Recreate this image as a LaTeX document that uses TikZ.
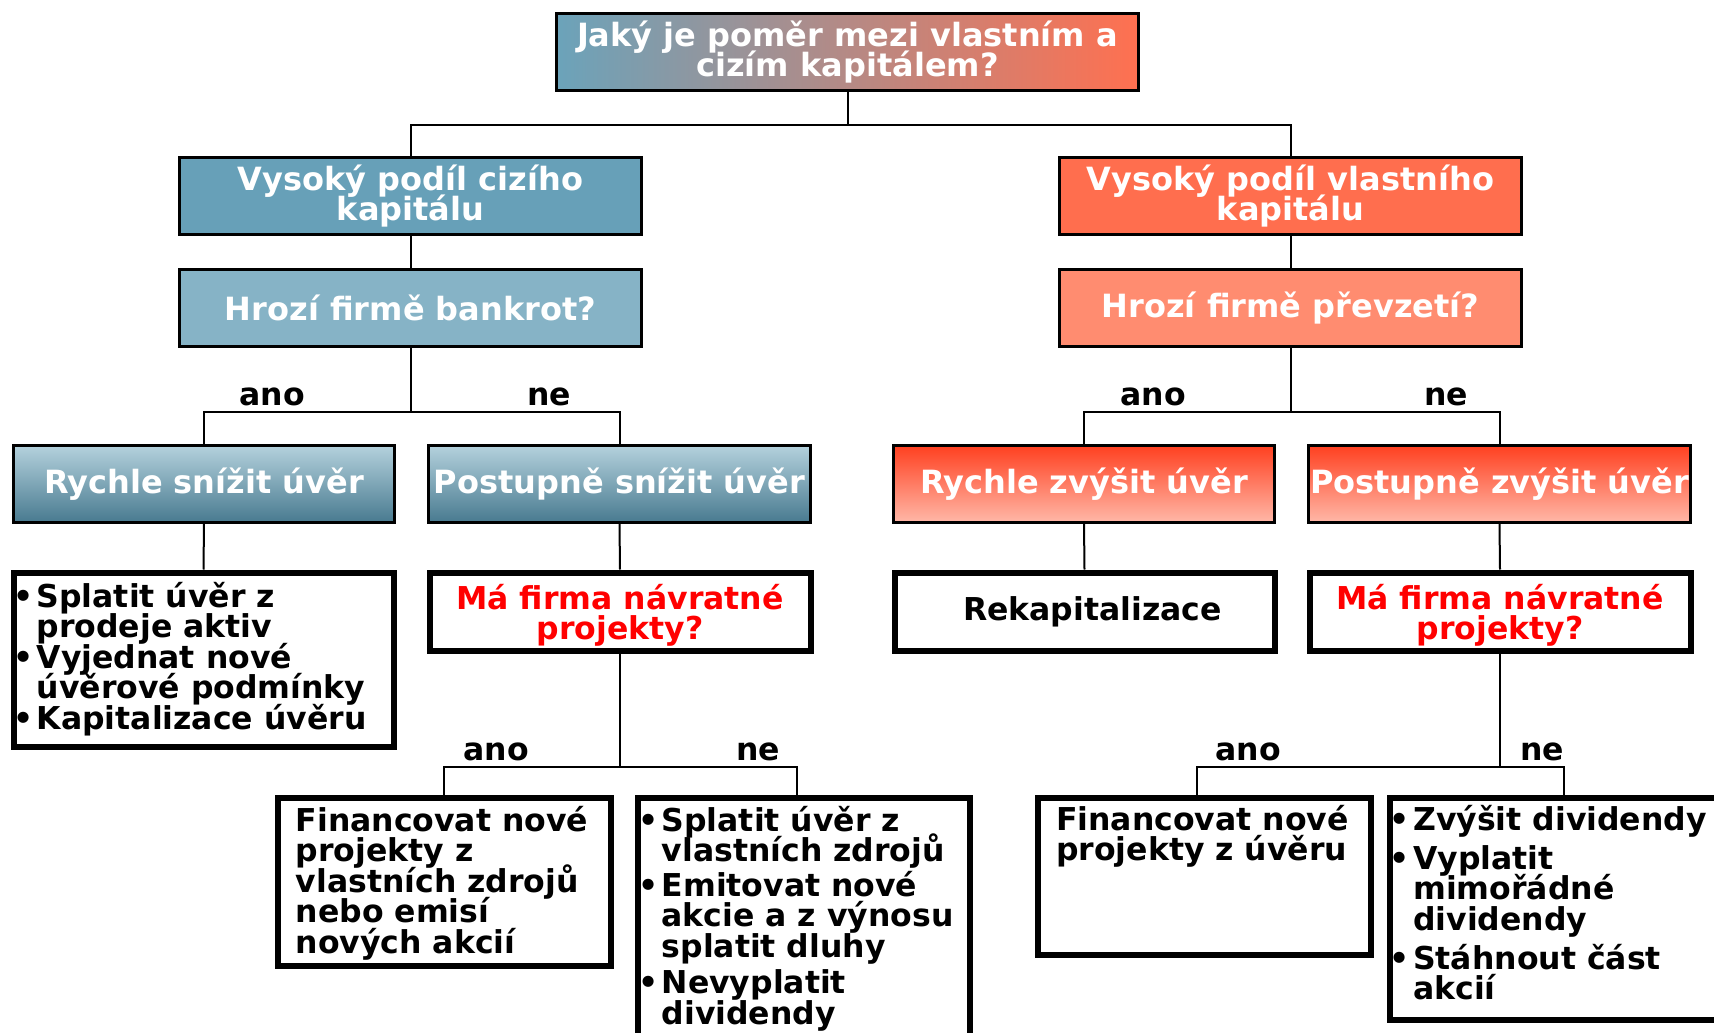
\documentclass[tikz,border=0pt]{standalone}
\usepackage{fontspec}
\setmainfont{DejaVu Sans}
\usetikzlibrary{calc}

\definecolor{hdblue}{HTML}{6BA3BA}
\definecolor{hdorange}{HTML}{FF7050}
\definecolor{debtA}{HTML}{67A0B8}
\definecolor{debtB}{HTML}{86B3C6}
\definecolor{debtTop}{HTML}{B4D1DC}
\definecolor{debtBot}{HTML}{487A90}
\definecolor{eqA}{HTML}{FF6E4E}
\definecolor{eqB}{HTML}{FF8C70}
\definecolor{eqTop}{HTML}{FF4020}
\definecolor{eqBot}{HTML}{FFB8A8}
\definecolor{askred}{HTML}{FF0000}

% list helpers: bullet column, hanging indent, first-line strut
\newcommand\bulletbox{\makebox[23.5pt][l]{•}}
\newcommand\hangbox{\hspace*{23.5pt}}
\newcommand\firststrut{\rule{0pt}{30pt}}

\tikzset{
  every node/.style={font=\bfseries\fontsize{31.5}{30.5}\selectfont},
  colbox/.style={draw=black, line width=2.5pt, inner sep=0pt, text=white, align=center,
                 font=\bfseries\fontsize{32}{30.5}\selectfont},
  whitebox/.style={draw=black, line width=6pt, fill=white, inner sep=0pt},
  listtext/.style={anchor=north west, inner sep=0pt, align=left, text=black},
  link/.style={draw=black, line width=2pt},
  lbl/.style={anchor=base, inner sep=0pt, text=black}
}

\begin{document}
\setlength{\lineskiplimit}{-100pt}
\begin{tikzpicture}[x=1pt,y=-1pt]
\useasboundingbox (0,0) rectangle (1714,1033);
\fill[white] (0,0) rectangle (1714,1033);

% question at the top
\node[colbox, left color=hdblue, right color=hdorange, minimum width=582, minimum height=77]
  (top) at (847.5,52) {Jaký je poměr mezi vlastním a\\cizím kapitálem?};

% debt side
\node[colbox, fill=debtA, minimum width=462, minimum height=77] (vl) at (410.5,196) {Vysoký podíl cizího\\kapitálu};
\node[colbox, fill=debtB, minimum width=462, minimum height=77] (bl) at (410.5,308) {Hrozí firmě bankrot?};
\node[colbox, top color=debtTop, bottom color=debtBot, minimum width=381, minimum height=77] (rs) at (204,484) {Rychle snížit úvěr};
\node[colbox, top color=debtTop, bottom color=debtBot, minimum width=382, minimum height=77] (ps) at (619.5,484) {Postupně snížit úvěr};

% equity side
\node[colbox, fill=eqA, minimum width=462, minimum height=77] (vr) at (1290.5,196) {Vysoký podíl vlastního\\kapitálu};
\node[colbox, fill=eqB, minimum width=462, minimum height=77] (br) at (1290.5,308) {Hrozí firmě převzetí?};
\node[colbox, top color=eqTop, bottom color=eqBot, minimum width=381, minimum height=77] (rz) at (1084,484) {Rychle zvýšit úvěr};
\node[colbox, top color=eqTop, bottom color=eqBot, minimum width=382, minimum height=77] (pz) at (1499.5,484) {Postupně zvýšit úvěr};

% white outcome boxes
\node[whitebox, minimum width=380, minimum height=174] (list1) at (203.5,659.5) {};
\node[whitebox, minimum width=381, minimum height=78, text=askred, align=center] (q1) at (620,611.5) {\rule{0pt}{33pt}Má firma návratné\\projekty?};
\node[whitebox, minimum width=380, minimum height=78, text=black] (rek) at (1084.5,611.5) {\hspace*{16pt}Rekapitalizace};
\node[whitebox, minimum width=381, minimum height=78, text=askred, align=center] (q2) at (1500,611.5) {\rule{0pt}{33pt}Má firma návratné\\projekty?};
\node[whitebox, minimum width=333, minimum height=168] (fin1) at (444,881.5) {};
\node[whitebox, minimum width=332, minimum height=245] (spl) at (803.5,920) {};
\node[whitebox, minimum width=333, minimum height=157] (fin2) at (1204,876) {};
\node[whitebox, minimum width=349, minimum height=222] (zv) at (1564,908.5) {};

% texts of the outcome boxes
\node[listtext] (list1t) at ([shift={(2.5,7.5)}]list1.north west)
  {\firststrut\bulletbox Splatit úvěr z\\
   \hangbox prodeje aktiv\\
   \bulletbox Vyjednat nové\\
   \hangbox úvěrové podmínky\\
   \bulletbox Kapitalizace úvěru};
\node[listtext] (fin1t) at ([shift={(21,6.5)}]fin1.north west)
  {\firststrut Financovat nové\\projekty z\\vlastních zdrojů\\nebo emisí\\nových akcií};
\node[listtext] (splt) at ([shift={(3.5,6.5)}]spl.north west)
  {\firststrut\bulletbox Splatit úvěr z\\
   \hangbox vlastních zdrojů\\[4pt]
   \bulletbox Emitovat nové\\
   \hangbox akcie a z výnosu\\
   \hangbox splatit dluhy\\[6pt]
   \bulletbox Nevyplatit\\
   \hangbox dividendy};
\node[listtext] (fin2t) at ([shift={(21.5,5.5)}]fin2.north west)
  {\firststrut Financovat nové\\projekty z úvěru};
\node[listtext] (zvt) at ([shift={(3,5.5)}]zv.north west)
  {\firststrut\bulletbox Zvýšit dividendy\\[8.5pt]
   \bulletbox Vyplatit\\
   \hangbox mimořádné\\
   \hangbox dividendy\\[8.5pt]
   \bulletbox Stáhnout část\\
   \hangbox akcií};

% connectors
\draw[link] (top.south) -- ++(0,33) coordinate (j0) -| (vl.north);
\draw[link] (j0) -| (vr.north);
\draw[link] (vl.south) -- (bl.north);
\draw[link] (vr.south) -- (br.north);
\draw[link] (bl.south) -- ++(0,64.5) coordinate (j1) -| (rs.north);
\draw[link] (j1) -| (ps.north);
\draw[link] (br.south) -- ++(0,64.5) coordinate (j2) -| (rz.north);
\draw[link] (j2) -| (pz.north);
\draw[link] (rs.south) -- (list1.north);
\draw[link] (ps.south) -- (q1.north);
\draw[link] (rz.south) -- (rek.north);
\draw[link] (pz.south) -- (q2.north);
\draw[link] (q1.south) -- ++(0,113) coordinate (j3) -| (fin1.north);
\draw[link] (j3) -| ([xshift=-7pt]spl.north);
\draw[link] (q2.south) -- ++(0,113) coordinate (j4) -| ([xshift=-7pt]fin2.north);
\draw[link] (j4) -| (zv.north);

% branch labels
\node[lbl] (a1) at (272,405) {ano};
\node[lbl] (n1) at (549,405) {ne};
\node[lbl] (a2) at (1153,405) {ano};
\node[lbl] (n2) at (1446,405) {ne};
\node[lbl] (a3) at (496,760) {ano};
\node[lbl] (n3) at (758,760) {ne};
\node[lbl] (a4) at (1248,760) {ano};
\node[lbl] (n4) at (1542,760) {ne};
\end{tikzpicture}
\end{document}
